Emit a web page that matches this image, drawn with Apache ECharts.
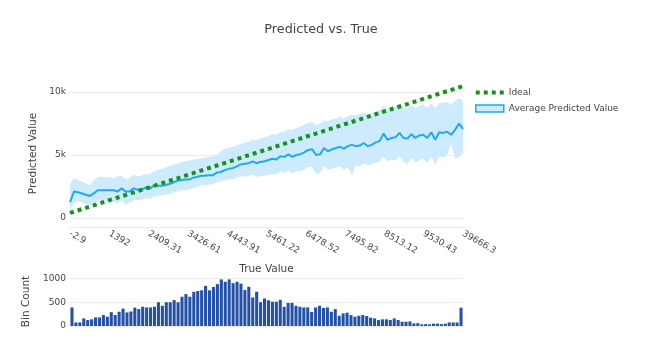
<!DOCTYPE html>
<html>
<head>
<meta charset="utf-8">
<script src="https://cdn.jsdelivr.net/npm/echarts@6/dist/echarts.min.js"></script>
<style>html,body{margin:0;padding:0;background:#fff}#c{width:652px;height:362px}</style>
</head>
<body>
<div id="c"></div>
<script>
const xTickLabels = ['-2.9','1392','2409.31','3426.61','4443.91','5461.22','6478.52','7495.82','8513.12','9530.43','39666.3'];
const avgPredicted = [1250,2100,2050,1950,1850,1750,1950,2200,2200,2200,
 2200,2200,2100,2350,2100,2100,2350,2250,2250,2400,
 2300,2550,2550,2550,2600,2700,2800,2950,3000,3050,
 3050,3200,3250,3350,3350,3400,3400,3600,3650,3800,
 3900,3950,4100,4250,4300,4350,4500,4350,4450,4500,
 4600,4700,4650,4900,4850,5050,4850,5000,5050,5200,
 5400,5450,5000,5050,5550,5300,5450,5550,5650,5500,
 5700,5800,5700,5750,5950,5700,5800,6000,6100,6700,
 6200,6350,6400,6750,6350,6300,6650,6350,6550,6600,
 6350,6800,6200,6800,6750,6850,6600,7000,7500,7050];
const bandUpper = [2700,3200,3000,2900,2750,2600,3000,3250,3300,3200,
 3250,3150,3300,3350,3050,3150,3450,3300,3350,3500,
 3450,3700,3800,3900,4000,4100,4200,4300,4400,4500,
 4550,4650,4700,4750,4800,4850,4900,5000,5250,5500,
 5600,5650,5750,5900,6000,6050,6200,6150,6300,6400,
 6500,6650,6600,6800,6850,7050,7000,7150,7250,7400,
 7550,7600,7400,7500,7750,7650,7850,7900,8050,7900,
 8100,8200,8150,8250,8400,8200,8300,8450,8550,8900,
 8600,8750,8800,9000,8700,8700,8950,8700,8900,9000,
 8750,9100,8700,9100,9150,9200,9000,9300,9500,9350];
const bandLower = [700,1200,1300,1250,1100,1000,1150,1350,1400,1300,
 1250,1300,1150,1400,1050,1200,1400,1400,1450,1550,
 1500,1700,1750,1800,1850,1900,2000,2100,2200,2250,
 2250,2400,2450,2600,2600,2650,2650,2850,2900,3000,
 3050,3100,3200,3300,3300,3350,3450,3250,3350,3350,
 3450,3500,3450,3700,3600,3800,3500,3700,3700,3850,
 4050,4050,3500,3600,4150,3850,3900,4000,4100,3800,
 4050,3400,4150,4100,4300,4200,4250,4400,4450,4900,
 4500,4600,4600,4900,4450,4300,4800,4400,4600,4700,
 4350,4900,4200,4900,4800,5000,5900,4700,4800,5200];
const idealX = [0, 99];
const idealY = [400, 10470];
const binCounts = [390,75,75,160,125,140,180,180,230,195,
 290,230,300,365,285,305,385,355,405,390,
 390,405,500,425,500,500,545,500,615,670,
 615,720,735,750,845,750,820,880,980,930,
 980,900,930,890,755,825,600,720,500,580,
 540,510,510,550,405,485,485,425,405,390,
 390,295,390,425,380,390,300,355,215,265,
 280,230,195,215,230,210,175,160,125,140,
 140,125,160,125,90,90,95,55,60,35,
 40,35,50,50,40,50,75,75,75,385];

const FONT = 'DejaVu Sans';
const TXT = '#444';
const binIndex = binCounts.map((_, i) => String(i));
const chart = echarts.init(document.getElementById('c'), null, {renderer: 'canvas'});
chart.setOption({
  animation: false,
  backgroundColor: '#fff',
  textStyle: {fontFamily: FONT, color: TXT},
  title: {
    text: 'Predicted vs. True', left: 316, top: 18, textAlign: 'center',
    textStyle: {fontFamily: FONT, fontSize: 12.75, fontWeight: 'normal', color: TXT}
  },
  legend: {
    orient: 'vertical', left: 475, top: 88, padding: 0, itemGap: 7, itemWidth: 28, itemHeight: 11,
    data: [
      {name: 'Ideal', icon: 'path://M0,0h4v4h-4zM8,0h4v4h-4zM16,0h4v4h-4zM24,0h4v4h-4z',
       itemStyle: {color: '#17921a'}},
      {name: 'Average Predicted Value', icon: 'path://M0,0h28v7h-28z',
       itemStyle: {color: '#cdebfc', borderColor: '#1fa9f4', borderWidth: 1.5}}
    ],
    textStyle: {fontFamily: FONT, fontSize: 9, color: TXT}
  },
  grid: [
    {left: 70, right: 189, top: 80, bottom: 135},
    {left: 70, right: 189, top: 277, bottom: 36}
  ],
  xAxis: [
    {
      type: 'value', gridIndex: 0, min: 0, max: 99, interval: 9.9,
      name: 'True Value', nameLocation: 'middle', nameGap: 37,
      nameTextStyle: {fontFamily: FONT, fontSize: 10.5, color: TXT},
      axisLine: {show: true, onZero: false, lineStyle: {color: '#ececec', width: 1}},
      axisTick: {show: false},
      splitLine: {show: false},
      axisLabel: {
        rotate: -30, margin: 6, fontFamily: FONT, fontSize: 9, color: TXT,
        formatter: v => xTickLabels[Math.round(v / 9.9)] || ''
      }
    },
    {
      type: 'category', gridIndex: 1, data: binIndex,
      axisLine: {show: false}, axisTick: {show: false}, axisLabel: {show: false}
    },
    {
      type: 'category', gridIndex: 0, data: binIndex, boundaryGap: false, show: false
    }
  ],
  yAxis: [
    {
      type: 'value', gridIndex: 0, min: -714, max: 10950,
      name: 'Predicted Value', nameLocation: 'middle', nameGap: 29,
      nameTextStyle: {fontFamily: FONT, fontSize: 10.5, color: TXT},
      axisLine: {show: false},
      axisTick: {show: false, customValues: [0, 5000, 10000]},
      axisLabel: {customValues: [0, 5000, 10000], margin: 4, fontFamily: FONT, fontSize: 9, color: TXT,
        formatter: v => v === 0 ? '0' : (v / 1000) + 'k'},
      splitLine: {show: true, lineStyle: {color: '#ececec', width: 1}}
    },
    {
      type: 'value', gridIndex: 1, min: 0, max: 1030,
      name: 'Bin Count', nameLocation: 'middle', nameGap: 29,
      nameTextStyle: {fontFamily: FONT, fontSize: 10.5, color: TXT},
      axisLine: {show: false},
      axisTick: {show: false, customValues: [0, 500, 1000]},
      axisLabel: {customValues: [0, 500, 1000], margin: 4, fontFamily: FONT, fontSize: 9, color: TXT,
        formatter: v => String(v)},
      splitLine: {show: true, lineStyle: {color: '#ececec', width: 1}}
    }
  ],
  series: [
    {
      name: 'bandLow', type: 'line', xAxisIndex: 2, yAxisIndex: 0, stack: 'band',
      data: bandLower, symbol: 'none',
      lineStyle: {opacity: 0}, silent: true, z: 1
    },
    {
      name: 'bandHigh', type: 'line', xAxisIndex: 2, yAxisIndex: 0, stack: 'band',
      data: bandUpper.map((v, i) => v - bandLower[i]), symbol: 'none',
      lineStyle: {opacity: 0, width: 0}, areaStyle: {color: '#cdebfc', opacity: 1}, silent: true, z: 1
    },
    {
      name: 'Average Predicted Value', type: 'line', xAxisIndex: 0, yAxisIndex: 0,
      data: avgPredicted.map((v, i) => [i, v]), symbol: 'none',
      lineStyle: {color: '#1fa9f4', width: 2}, itemStyle: {color: '#1fa9f4'}, z: 3
    },
    {
      name: 'Ideal', type: 'line', xAxisIndex: 0, yAxisIndex: 0,
      data: idealX.map((x, i) => [x, idealY[i]]), symbol: 'none',
      lineStyle: {color: '#17921a', width: 4, type: [4, 4]}, itemStyle: {color: '#17921a'}, z: 4
    },
    {
      name: 'Bin Count', type: 'bar', xAxisIndex: 1, yAxisIndex: 1,
      data: binCounts, barCategoryGap: '22%',
      itemStyle: {color: '#2450a6'}
    }
  ]
});
</script>
</body>
</html>
